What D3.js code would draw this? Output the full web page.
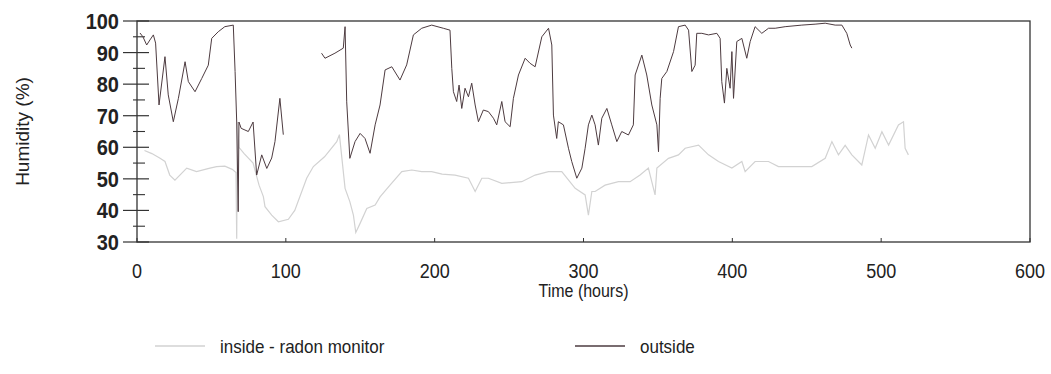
<!DOCTYPE html>
<html>
<head>
<meta charset="utf-8">
<script src="https://cdn.jsdelivr.net/npm/d3@7"></script>
<style>
  body { margin: 0; background: #fff; }
  text { font-family: "Liberation Sans", Arial, sans-serif; fill: #222; }
</style>
</head>
<body>
<div id="chart"></div>
<script>
// outside humidity (null = gap in the record)
const outsideHours = [2, 4, 6.5, 8.7, 11, 12.5, 14.8, 18.8, 21, 24.4, 27.8, 32.3, 34.5, 39, 43.5, 47.9, 50.2, 54.6, 59, 64.7,
  65.9, 67, 68, 68.5, 70, 74.8, 78, 80.4, 83.8, 87.2, 90.5, 92.7, 96, 98.3, 110,
  124, 126.3, 133, 138.6, 139.8, 140.9, 143, 146.5, 149.9, 153.2, 156.6, 160, 163.3, 166.7, 171.2, 176.7, 181.2, 185.7, 191.3, 198,
  205.8, 210.3, 211.5, 212.6, 214.8, 216.4, 218.2, 220.4, 222.7, 224.9, 227.2, 229.4, 232.7, 236.1, 239.5, 241.7, 245.1, 247.3,
  250.7, 252.9, 256.3, 260.8, 264.1, 267.5, 272, 276.5, 278.7, 279.8, 282, 283.1, 286.5, 289.9, 292.1, 295.5, 298.9,
  301.1, 303.3, 305.6, 307.8, 310, 312.3, 315.7, 319, 322.4, 325.7, 330.2, 333.5, 334.7, 339.2, 342.5, 345.9, 349.3,
  350.4, 351.5, 352.6, 356, 360.5, 363.8, 368.3, 370.6, 372.8, 375, 376.1, 379.5, 384, 389.6, 391.8, 392.9, 394.7, 396.3,
  398.5, 399.7, 400.8, 403, 406.4, 409.7, 412, 415.3, 419.8, 424.3, 428.8, 435.5, 446.7, 455.6, 462.4, 469.1, 473.6,
  476.9, 479.2, 480.3];
const outsideValues = [96.2, 95, 92.4, 94, 95.6, 93, 73.4, 88.7, 76.6, 68.1, 75.5, 87.1, 80.8, 77.6, 81.8, 86, 94.5, 96.6, 98.2, 98.7,
  84, 68, 39.6, 68, 66, 65, 68, 51.2, 57.6, 53.3, 56.6, 61.8, 75.5, 64, null,
  89.8, 88.2, 89.8, 91.4, 98.2, 74.4, 56.5, 61.8, 64.4, 62.8, 58.1, 67.1, 73.4, 84.5, 85.5, 81.3, 86.1, 95.6, 97.7, 98.7,
  97.7, 97.1, 85, 77.6, 74.5, 79.7, 72.3, 78.7, 76, 80.3, 73.4, 68.1, 71.8, 71.3, 69.2, 67.1, 74.5, 68.1,
  66.5, 75.5, 82.9, 88.2, 86.6, 85.5, 95, 97.7, 92.4, 70.2, 62.8, 68.1, 67.1, 59.7, 55.5, 50.2, 53.4,
  59.7, 67.1, 70.2, 67.1, 60.7, 69.2, 72.3, 67.1, 61.8, 65, 63.9, 67.1, 82.9, 89.2, 82.9, 73.4, 67.1,
  58.6, 75.5, 81.8, 84, 90.3, 98.2, 98.7, 97.1, 84, 86, 96.1, 96.1, 95.6, 96.1, 94.5, 80.8, 74, 85,
  78.7, 90.3, 75.5, 93.5, 94.5, 88.2, 93.5, 98.2, 96.1, 97.7, 97.7, 98.2, 98.7, 99, 99.3, 98.7, 98.7,
  96.1, 92.4, 91.4];

// inside humidity, radon monitor
const insideHours = [5, 10, 15.5, 18.8, 22, 25.5, 33.4, 40, 49, 53.5, 59, 64, 66.5, 67, 67.5, 68.5, 72, 78, 82, 84.9,
  86, 90.5, 95, 101.7, 106, 114, 118.5, 126, 134.2, 136, 139.8, 143, 145.4, 147, 149.9, 154.4, 160, 163.3, 170,
  177.9, 184.6, 191.3, 198, 205, 213.7, 222.7, 227.2, 231.7, 236.1, 245.1, 258.5, 267.5, 276.5, 285.4, 294.4,
  301.1, 303.3, 305.6, 307.8, 314.5, 323.5, 331.3, 338, 343.6, 348.1, 349.3, 357.1, 363.8, 368.3, 377.3, 384,
  390.7, 399.7, 406.4, 408.6, 415.3, 424.3, 431, 442.2, 453.4, 462.4, 466.9, 471.3, 475.8, 480.3, 487, 491.5,
  496, 500.5, 505, 511.6, 515, 516.1, 518.3];
const insideValues = [59, 58, 56.5, 55.5, 51.2, 49.6, 53.4, 52.3, 53.4, 53.9, 54, 53, 52, 31, 68, 60, 58, 55, 48, 44.4,
  41.2, 38.5, 36.4, 37.2, 40, 50.2, 53.9, 57, 61.8, 64, 47, 42.8, 38.5, 33, 35.9, 40.6, 41.7, 44.3, 48,
  52.3, 52.8, 52.3, 52.3, 51.5, 51.2, 50.2, 46, 50.2, 50.2, 48.6, 49.1, 51.2, 52.3, 52.3, 47,
  44.9, 38.5, 46, 46, 48, 49.1, 49.1, 51.2, 53.4, 44.9, 53.4, 56.5, 57.6, 59.7, 60.7, 57.6,
  55.5, 53.4, 55.5, 52.3, 55.5, 55.5, 53.9, 53.9, 53.9, 56.5, 61.8, 57.6, 60.6, 57.6, 54.4, 63.9,
  59.7, 64.9, 60.7, 67.1, 68.1, 59.7, 57.6];

const xTicks = [0, 100, 200, 300, 400, 500, 600];
const yTicks = [30, 40, 50, 60, 70, 80, 90, 100];
const seriesNames = ['inside - radon monitor', 'outside'];

const width = 1051, height = 374;
const insideColor = '#d2d2d2', outsideColor = '#4d3b40';

const svg = d3.select('#chart').append('svg')
  .attr('width', width)
  .attr('height', height);

const x = d3.scaleLinear().domain([0, 600]).range([137, 1030]);
const y = d3.scaleLinear().domain([30, 100]).range([242, 21]);

// frame
svg.append('rect')
  .attr('x', x(0)).attr('y', y(100))
  .attr('width', x(600) - x(0)).attr('height', y(30) - y(100))
  .attr('fill', 'none').attr('stroke', '#333').attr('stroke-width', 1.3);

// y axis: major ticks cross the axis, minor ones every 5
const yAxis = svg.append('g').attr('transform', `translate(${x(0)},0)`);
yAxis.selectAll('line.major').data(yTicks).enter().append('line')
  .attr('x1', -14).attr('x2', 12)
  .attr('y1', d => y(d)).attr('y2', d => y(d))
  .attr('stroke', '#333').attr('stroke-width', 1.2);
yAxis.selectAll('line.minor').data(d3.range(35, 100, 10)).enter().append('line')
  .attr('x1', -4).attr('x2', 8)
  .attr('y1', d => y(d)).attr('y2', d => y(d))
  .attr('stroke', '#333').attr('stroke-width', 1.1);
yAxis.selectAll('text').data(yTicks).enter().append('text')
  .attr('transform', d => `translate(-18,${y(d)}) scale(1,1.1)`)
  .attr('dy', '0.36em')
  .attr('text-anchor', 'end')
  .style('font-size', '20px').style('font-weight', 'bold')
  .text(d => d);

// x axis
const xAxis = svg.append('g').attr('transform', `translate(0,${y(30)})`);
xAxis.selectAll('line').data(xTicks).enter().append('line')
  .attr('x1', d => x(d)).attr('x2', d => x(d))
  .attr('y1', 0).attr('y2', -4)
  .attr('stroke', '#333');
xAxis.selectAll('text').data(xTicks).enter().append('text')
  .attr('transform', d => `translate(${x(d)},36) scale(1,1.15)`)
  .attr('text-anchor', 'middle')
  .style('font-size', '18px')
  .text(d => d);

svg.append('text')
  .attr('transform', `translate(${x(300)},297) scale(1,1.1)`)
  .attr('text-anchor', 'middle')
  .style('font-size', '16px')
  .text('Time (hours)');

svg.append('text')
  .attr('transform', `translate(29,${(y(30) + y(100)) / 2}) rotate(-90)`)
  .attr('text-anchor', 'middle')
  .style('font-size', '19px')
  .text('Humidity (%)');

// lines
const line = d3.line()
  .defined(d => d[1] != null)
  .x(d => x(d[0]))
  .y(d => y(d[1]));

svg.append('path')
  .datum(d3.zip(insideHours, insideValues))
  .attr('d', line)
  .attr('fill', 'none')
  .attr('stroke', insideColor)
  .attr('stroke-width', 1.2);

svg.append('path')
  .datum(d3.zip(outsideHours, outsideValues))
  .attr('d', line)
  .attr('fill', 'none')
  .attr('stroke', outsideColor)
  .attr('stroke-width', 1);

// legend
const legend = svg.append('g');
const legendX = [155, 575];
const legendColors = [insideColor, outsideColor];
seriesNames.forEach((name, i) => {
  legend.append('line')
    .attr('x1', legendX[i]).attr('x2', legendX[i] + 50)
    .attr('y1', 346).attr('y2', 346)
    .attr('stroke', legendColors[i]).attr('stroke-width', 1.3);
  legend.append('text')
    .attr('transform', `translate(${legendX[i] + 65},346) scale(1,1.1)`)
    .attr('dy', '0.35em')
    .style('font-size', '17px')
    .text(name);
});
</script>
</body>
</html>
